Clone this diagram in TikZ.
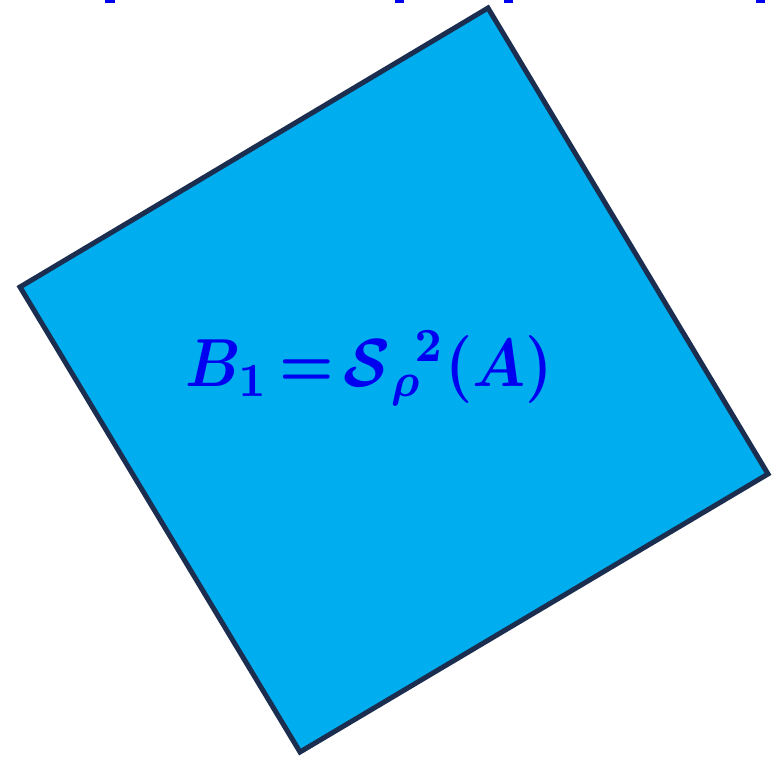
\documentclass[tikz,border=0pt]{standalone}
\usepackage{amsmath,bm}
\usepackage{tikz}
\usetikzlibrary{calc}
\definecolor{cPlate}{HTML}{00AEEF}
\definecolor{cEdge}{HTML}{1B2E4F}
\definecolor{cInk}{HTML}{0000F0}
\tikzset{
  plate/.style={fill=cPlate, draw=cEdge, line width=5pt, line join=miter},
  tick/.style ={fill=cInk},
  formula/.style={text=cInk, inner sep=0pt},
}

\begin{document}
\begin{tikzpicture}[x=1pt, y=-1pt]
        \useasboundingbox (0,0) rectangle (781,764);
        % bits of the line above, cut off at the top
        \fill[tick] (105,0) rectangle (115,3);
        \fill[tick] (395,0) rectangle (404,3);
        \fill[tick] (504,0) rectangle (513,3);
        \fill[tick] (756,0) rectangle (765,3);
        % the tilted square
        \coordinate (top) at (488,8);
        \coordinate (right) at (768,474);
        \coordinate (bottom) at (300,752);
        \coordinate (left) at (20,287);
        \draw[plate] (top) -- (right) -- (bottom) -- (left) -- cycle;
        \node[formula, anchor=base] (lbl) at (369,386)
          {\scalebox{6.1}[6.8]{$\bm{B}_{\mathbf 1}\,{\bm{=}}\,\bm{\mathcal S}_{\bm\rho}{}^{\!\mathbf 2}\bm{(}\bm{A}\bm{)}$}};
      \end{tikzpicture}
\end{document}
